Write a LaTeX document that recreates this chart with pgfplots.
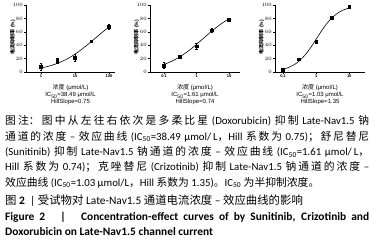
\documentclass[border=0pt]{standalone}
\usepackage{fontspec}
\usepackage{pgfplots}
\pgfplotsset{compat=1.18}
\setmainfont{Carlito}
\newfontfamily\cjk{Noto Sans CJK SC}
\newfontfamily\arial{Liberation Sans}
\newcommand{\zh}[1]{{\cjk #1}}
\pgfplotsset{
  myaxis/.style={
    scale only axis, width=89pt, height=67pt,
    ymin=0, ymax=100,
    axis x line*=bottom, axis y line*=left,
    axis line style={-, line width=0.8pt},
    ytick={0,20,40,60,80,100},
    xminorticks=false, yminorticks=false,
    tick style={black, line width=0.6pt},
    tick align=outside, major tick length=2pt,
    ticklabel style={font=\arial\bfseries\fontsize{4}{4}\selectfont, inner sep=1pt},
    ylabel={\zh{\bfseries 电流抑制率} {\arial\bfseries (\%)}},
    ylabel style={font=\fontsize{5}{5}\selectfont, at={(axis description cs:-0.15,0.52)}, anchor=center, inner sep=0pt},
    xlabel style={font=\arial\fontsize{6}{7}\selectfont, at={(axis description cs:0.5,0)}, anchor=north, yshift=-12.5pt, align=center, inner sep=0pt},
    clip=false,
  },
  myfit/.style={black, line width=0.6pt, smooth, no marks},
}
\pgfplotstableread{
x y e
1 7.8 5
3 16.5 4
10 21 5
30 46 2
100 68 4
}\doxo
\pgfplotstableread{
x y
1 6.08
1.5 8.06
2 9.81
3 12.85
5 17.78
7 21.77
10 26.68
15 33.03
20 37.96
30 45.33
50 54.88
70 61.03
100 67.17
}\doxofit
\pgfplotstableread{
x y e
0.1 10 4
0.3 23 1
1 38.5 5
3 62.5 3
10 78.5 2
}\suni
\pgfplotstableread{
x y
0.1 11.34
0.15 14.73
0.2 17.6
0.3 22.39
0.5 29.63
0.7 35.06
1 41.29
1.5 48.69
2 54.0
3 61.31
5 69.82
7 74.79
10 79.43
}\sunifit
\pgfplotstableread{
x y e
0.1 3.5 1
0.3 19 2
1 45 2
3 81 1
10 97 1
}\criz
\pgfplotstableread{
x y
0.1 4.11
0.15 6.91
0.2 9.86
0.3 15.9
0.5 27.38
0.7 37.25
1 49.0
1.5 62.42
2 71.0
3 80.9
5 89.4
7 93.0
10 95.56
}\crizfit
\begin{document}
\begin{tikzpicture}
\useasboundingbox (0pt,0pt) rectangle (379pt,247pt);
\begin{semilogxaxis}[myaxis, at={(26pt,175pt)}, anchor=south west,
  xmin=0.36, xmax=150, xtick={1,10,100}, xticklabels={1,10,100},
  xlabel={\zh{浓度} (μmol/L)\\IC\textsubscript{50}=38.49 μmol/L\\HillSlope=0.75}]
\addplot[myfit] table[x=x,y=y] {\doxofit};
\addplot[black, only marks, mark=square*, mark size=1.4pt,
    error bars/.cd, y dir=both, y explicit,
    error bar style={black, line width=0.5pt},
    error mark options={rotate=90, mark size=1.4pt, black, line width=0.5pt}]
    table[x=x,y=y,y error=e] {\doxo};
\end{semilogxaxis}
\begin{semilogxaxis}[myaxis, at={(150pt,175pt)}, anchor=south west, width=90pt,
  xmin=0.037, xmax=21.8, xtick={0.1,1,10}, xticklabels={0.1,1,10},
  xlabel={\zh{浓度} (μmol/L)\\IC\textsubscript{50}=1.61 μmol/L\\HillSlope=0.74}]
\addplot[myfit] table[x=x,y=y] {\sunifit};
\addplot[black, only marks, mark=square*, mark size=1.4pt,
    error bars/.cd, y dir=both, y explicit,
    error bar style={black, line width=0.5pt},
    error mark options={rotate=90, mark size=1.4pt, black, line width=0.5pt}]
    table[x=x,y=y,y error=e] {\suni};
\end{semilogxaxis}
\begin{semilogxaxis}[myaxis, at={(275pt,175pt)}, anchor=south west, width=90pt,
  xmin=0.057, xmax=30, xtick={0.1,1,10}, xticklabels={0.1,1,10},
  xlabel={\zh{浓度} (μmol/L)\\IC\textsubscript{50}=1.03 μmol/L\\HillSlope=1.35}]
\addplot[myfit] table[x=x,y=y] {\crizfit};
\addplot[black, only marks, mark=square*, mark size=1.4pt,
    error bars/.cd, y dir=both, y explicit,
    error bar style={black, line width=0.5pt},
    error mark options={rotate=90, mark size=1.4pt, black, line width=0.5pt}]
    table[x=x,y=y,y error=e] {\criz};
\end{semilogxaxis}
\node[anchor=north west, inner sep=0pt, text width=364pt, align=justify,
  font=\fontsize{10.8}{15.3}\selectfont] at (5pt,131.5pt) {%
\XeTeXlinebreaklocale "zh"\XeTeXlinebreakskip=0pt plus 2pt minus 0.3pt\tolerance=9999\emergencystretch=5pt
\zh{图注：图中从左往右依次是多柔比星} (Doxorubicin) \zh{抑制} Late-Nav1.5 \zh{钠}\linebreak
\zh{通道的浓度} – \zh{效应曲线} (IC\textsubscript{50}=38.49 μmol/L\zh{，}Hill \zh{系数为} 0.75)\zh{；舒尼替尼}\linebreak
(Sunitinib) \zh{抑制} Late-Nav1.5 \zh{钠通道的浓度} – \zh{效应曲线} (IC\textsubscript{50}=1.61 μmol/L\zh{，}\linebreak
Hill \zh{系数为} 0.74)\zh{；克唑替尼} (Crizotinib) \zh{抑制} Late-Nav1.5 \zh{钠通道的浓度} –\linebreak
\zh{效应曲线} (IC\textsubscript{50}=1.03 μmol/L\zh{，}Hill \zh{系数为} 1.35)\zh{。}IC\textsubscript{50} \zh{为半抑制浓度。}};
\node[anchor=north west, inner sep=0pt, text width=364pt, align=justify,
  font=\fontsize{11.4}{15.2}\selectfont] at (5pt,52pt) {%
\XeTeXlinebreaklocale "zh"\XeTeXlinebreakskip=0pt plus 2pt\tolerance=9999
\zh{图} \textbf{2} \ | \zh{受试物对} Late-Nav1.5 \zh{通道电流浓度} – \zh{效应曲线的影响}\\
\textbf{Figure 2 \ \ | \ \ Concentration-effect curves of by Sunitinib, Crizotinib and}\linebreak
\textbf{Doxorubicin on Late-Nav1.5 channel current}};
\end{tikzpicture}
\end{document}
